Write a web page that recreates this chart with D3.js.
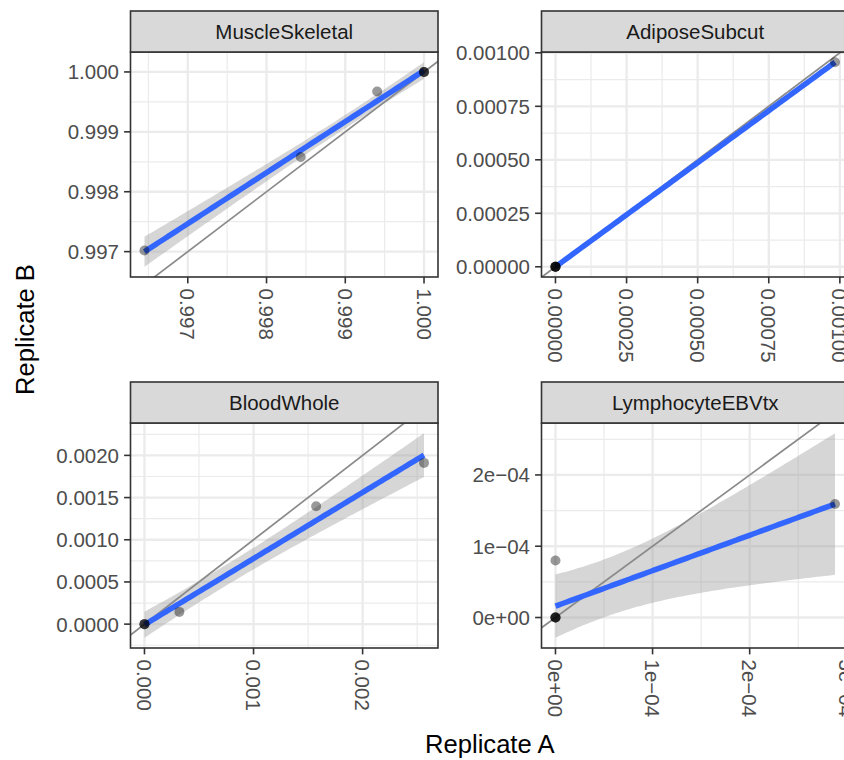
<!DOCTYPE html>
<html>
<head>
<meta charset="utf-8">
<script src="https://cdn.jsdelivr.net/npm/d3@7"></script>
<style>
  html, body { margin: 0; padding: 0; background: #ffffff; }
  svg { display: block; font-family: "Liberation Sans", Arial, Helvetica, sans-serif; }
</style>
</head>
<body>
<svg id="chart" width="844" height="760"></svg>
<script>
// ---------------- data ----------------
const panelNames = ["MuscleSkeletal", "AdiposeSubcut", "BloodWhole", "LymphocyteEBVtx"];

// Replicate A (x) and Replicate B (y) per tissue, 6 samples each
const muscleA  = [0.99645, 0.998434, 0.999405, 1.0, 1.0, 1.0];
const muscleB  = [0.99702, 0.99858, 0.999674, 1.0, 1.0, 1.0];
const adiposeA = [0, 0, 0, 0, 0, 0.000983];
const adiposeB = [0, 0, 0, 0, 0, 0.000956];
const bloodA   = [0, 0, 0, 0.00032, 0.001574, 0.002563];
const bloodB   = [0, 0, 0, 0.000145, 0.001398, 0.001911];
const lymphA   = [0, 0, 0, 0, 0, 0.0002879];
const lymphB   = [0, 0, 0, 0, 0.00008, 0.0001592];

// tick values and labels
const muscleTicks   = [0.997, 0.998, 0.999, 1.000];
const muscleLabels  = ["0.997", "0.998", "0.999", "1.000"];
const adiposeTicks  = [0, 0.00025, 0.0005, 0.00075, 0.001];
const adiposeLabels = ["0.00000", "0.00025", "0.00050", "0.00075", "0.00100"];
const bloodXTicks   = [0, 0.001, 0.002];
const bloodXLabels  = ["0.000", "0.001", "0.002"];
const bloodYTicks   = [0, 0.0005, 0.001, 0.0015, 0.002];
const bloodYLabels  = ["0.0000", "0.0005", "0.0010", "0.0015", "0.0020"];
const lymphXTicks   = [0, 1e-4, 2e-4, 3e-4];
const lymphXLabels  = ["0e+00", "1e\u221204", "2e\u221204", "3e\u221204"];
const lymphYTicks   = [0, 1e-4, 2e-4];
const lymphYLabels  = ["0e+00", "1e\u221204", "2e\u221204"];

const xTitle = "Replicate A";
const yTitle = "Replicate B";

// 95% two-sided t critical value for df = n - 2 = 4
const tCrit = 2.776445;

// ---------------- layout ----------------
const colX = [130.5, 541.5];
const rowY = [11, 382];
const panelW = 307.5, stripH = 41, panelH = 225;

const panels = [
  { name: panelNames[0], a: muscleA,  b: muscleB,  xt: muscleTicks,  xl: muscleLabels,  yt: muscleTicks,  yl: muscleLabels,  col: 0, row: 0 },
  { name: panelNames[1], a: adiposeA, b: adiposeB, xt: adiposeTicks, xl: adiposeLabels, yt: adiposeTicks, yl: adiposeLabels, col: 1, row: 0 },
  { name: panelNames[2], a: bloodA,   b: bloodB,   xt: bloodXTicks,  xl: bloodXLabels,  yt: bloodYTicks,  yl: bloodYLabels,  col: 0, row: 1 },
  { name: panelNames[3], a: lymphA,   b: lymphB,   xt: lymphXTicks,  xl: lymphXLabels,  yt: lymphYTicks,  yl: lymphYLabels,  col: 1, row: 1 }
];

function lmFit(a, b) {
  const n = a.length;
  const xbar = d3.mean(a), ybar = d3.mean(b);
  let sxx = 0, sxy = 0;
  for (let i = 0; i < n; i++) { sxx += (a[i] - xbar) ** 2; sxy += (a[i] - xbar) * (b[i] - ybar); }
  const slope = sxy / sxx, intercept = ybar - slope * xbar;
  let sse = 0;
  for (let i = 0; i < n; i++) sse += (b[i] - (intercept + slope * a[i])) ** 2;
  const s = Math.sqrt(sse / (n - 2));
  return {
    predict: x => intercept + slope * x,
    half: x => tCrit * s * Math.sqrt(1 / n + (x - xbar) ** 2 / sxx)
  };
}

function expand(lo, hi) { const r = hi - lo; return [lo - 0.05 * r, hi + 0.05 * r]; }

function minorBreaks(ticks, dom) {
  const step = ticks[1] - ticks[0];
  const out = [];
  for (let v = ticks[0] - step / 2; v <= dom[1]; v += step) if (v >= dom[0]) out.push(v);
  return out;
}

const svg = d3.select("#chart");
svg.append("rect").attr("width", 844).attr("height", 760).attr("fill", "#ffffff");

const tickColor = "#4D4D4D", border = "#333333";
const tickFont = 20.5;

panels.forEach((p, idx) => {
  const x0 = colX[p.col], sTop = rowY[p.row], pTop = sTop + stripH;
  const fit = lmFit(p.a, p.b);
  const xExt = d3.extent(p.a);
  const grid = d3.range(80).map(i => xExt[0] + (xExt[1] - xExt[0]) * i / 79);
  const band = grid.map(x => ({ x, y: fit.predict(x), lo: fit.predict(x) - fit.half(x), hi: fit.predict(x) + fit.half(x) }));

  const xDom = expand(xExt[0], xExt[1]);
  const yLo = Math.min(d3.min(p.b), d3.min(band, d => d.lo));
  const yHi = Math.max(d3.max(p.b), d3.max(band, d => d.hi));
  const yDom = expand(yLo, yHi);

  const x = d3.scaleLinear().domain(xDom).range([x0, x0 + panelW]);
  const y = d3.scaleLinear().domain(yDom).range([pTop + panelH, pTop]);

  const g = svg.append("g");
  const clipId = "clip" + idx;
  g.append("clipPath").attr("id", clipId).append("rect")
    .attr("x", x0).attr("y", pTop).attr("width", panelW).attr("height", panelH);

  const inner = g.append("g").attr("clip-path", `url(#${clipId})`);
  inner.append("rect").attr("x", x0).attr("y", pTop).attr("width", panelW).attr("height", panelH).attr("fill", "#ffffff");

  // minor grid
  minorBreaks(p.xt, xDom).forEach(v => inner.append("line")
    .attr("x1", x(v)).attr("x2", x(v)).attr("y1", pTop).attr("y2", pTop + panelH)
    .attr("stroke", "#EBEBEB").attr("stroke-width", 1.2));
  minorBreaks(p.yt, yDom).forEach(v => inner.append("line")
    .attr("y1", y(v)).attr("y2", y(v)).attr("x1", x0).attr("x2", x0 + panelW)
    .attr("stroke", "#EBEBEB").attr("stroke-width", 1.2));
  // major grid
  p.xt.forEach(v => inner.append("line")
    .attr("x1", x(v)).attr("x2", x(v)).attr("y1", pTop).attr("y2", pTop + panelH)
    .attr("stroke", "#EBEBEB").attr("stroke-width", 2.3));
  p.yt.forEach(v => inner.append("line")
    .attr("y1", y(v)).attr("y2", y(v)).attr("x1", x0).attr("x2", x0 + panelW)
    .attr("stroke", "#EBEBEB").attr("stroke-width", 2.3));

  // ribbon
  inner.append("path").datum(band)
    .attr("d", d3.area().x(d => x(d.x)).y0(d => y(d.lo)).y1(d => y(d.hi)))
    .attr("fill", "#999999").attr("fill-opacity", 0.4);

  // identity line y = x
  const lo = Math.min(xDom[0], yDom[0]), hi = Math.max(xDom[1], yDom[1]);
  inner.append("line")
    .attr("x1", x(lo)).attr("y1", y(lo)).attr("x2", x(hi)).attr("y2", y(hi))
    .attr("stroke", "#8A8A8A").attr("stroke-width", 1.7);

  // fitted line
  inner.append("path").datum(band)
    .attr("d", d3.line().x(d => x(d.x)).y(d => y(d.y)))
    .attr("fill", "none").attr("stroke", "#3366FF").attr("stroke-width", 5.5);

  // points
  p.a.forEach((v, i) => inner.append("circle")
    .attr("cx", x(v)).attr("cy", y(p.b[i])).attr("r", 5)
    .attr("fill", "#000000").attr("fill-opacity", 0.4));

  // panel border
  g.append("rect").attr("x", x0).attr("y", pTop).attr("width", panelW).attr("height", panelH)
    .attr("fill", "none").attr("stroke", border).attr("stroke-width", 1.6);

  // strip
  g.append("rect").attr("x", x0).attr("y", sTop).attr("width", panelW).attr("height", stripH)
    .attr("fill", "#D9D9D9").attr("stroke", border).attr("stroke-width", 1.6);
  g.append("text").attr("x", x0 + panelW / 2).attr("y", sTop + stripH / 2)
    .attr("text-anchor", "middle").attr("dominant-baseline", "central")
    .attr("font-size", tickFont).attr("fill", "#1A1A1A").text(p.name);

  // y axis
  p.yt.forEach((v, i) => {
    g.append("line").attr("x1", x0 - 6.4).attr("x2", x0).attr("y1", y(v)).attr("y2", y(v))
      .attr("stroke", border).attr("stroke-width", 1.6);
    g.append("text").attr("x", x0 - 11.5).attr("y", y(v))
      .attr("text-anchor", "end").attr("dominant-baseline", "central")
      .attr("font-size", tickFont).attr("fill", tickColor).text(p.yl[i]);
  });
  // x axis
  const pBot = pTop + panelH;
  p.xt.forEach((v, i) => {
    g.append("line").attr("x1", x(v)).attr("x2", x(v)).attr("y1", pBot).attr("y2", pBot + 6.4)
      .attr("stroke", border).attr("stroke-width", 1.6);
    g.append("text").attr("transform", `translate(${x(v)},${pBot + 11.5}) rotate(90)`)
      .attr("text-anchor", "start").attr("dominant-baseline", "central")
      .attr("font-size", tickFont).attr("fill", tickColor).text(p.xl[i]);
  });
});

// axis titles
svg.append("text").attr("x", (colX[0] + colX[1] + panelW) / 2).attr("y", 753)
  .attr("text-anchor", "middle").attr("font-size", 25.6).attr("fill", "#000000").text(xTitle);
svg.append("text").attr("transform", `translate(25,${(rowY[0] + rowY[1] + stripH + panelH) / 2}) rotate(-90)`)
  .attr("text-anchor", "middle").attr("dominant-baseline", "central")
  .attr("font-size", 25.6).attr("fill", "#000000").text(yTitle);
</script>
</body>
</html>
